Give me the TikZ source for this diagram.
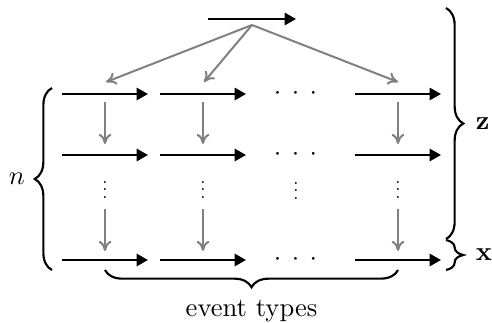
\documentclass[tikz,border=0pt]{standalone}
\usetikzlibrary{arrows.meta,decorations.pathreplacing}
\begin{document}
\begin{tikzpicture}[x=0.376pt,y=-0.376pt,
  blk/.style={line width=0.9pt,-{Triangle[length=4.3pt,width=4.6pt]}},
  gry/.style={line width=0.75pt,gray,-{To[length=3.8pt,width=4.8pt]}},
  brc/.style={decorate,decoration={brace,amplitude=#1},line width=0.8pt},
  brc/.default=6.5pt,
  hd/.style={inner sep=0pt},
  vd/.style={inner sep=0pt,scale=0.7}]
\useasboundingbox (0,0) rectangle (492,322);
% top arrow
\coordinate (t0) at (208,19); \coordinate (t1) at (296,19);
\draw[blk] (t0) -- (t1);
\coordinate (ts) at (252,25);
% rows
\foreach \r/\y in {a/94,b/155,c/260}{
  \coordinate (\r1s) at (62,\y);  \coordinate (\r1e) at (148,\y);
  \coordinate (\r2s) at (160,\y); \coordinate (\r2e) at (246,\y);
  \coordinate (\r4s) at (355,\y); \coordinate (\r4e) at (441,\y);
  \draw[blk] (\r1s) -- (\r1e);
  \draw[blk] (\r2s) -- (\r2e);
  \draw[blk] (\r4s) -- (\r4e);
  \node[hd] (\r3) at (295.5,\y) {$\cdotp\kern2.3pt\cdotp\kern2.3pt\cdotp$};
}
% diagonal gray arrows
\coordinate (d1) at (106,82); \coordinate (d2) at (204,82); \coordinate (d4) at (398,82);
\draw[gry] (ts) -- (d1);
\draw[gry] (ts) -- (d2);
\draw[gry] (ts) -- (d4);
% vertical gray arrows and vdots
\foreach \c/\x in {1/105,2/203,4/398}{
  \coordinate (u\c) at (\x,102); \coordinate (v\c) at (\x,144);
  \coordinate (p\c) at (\x,209); \coordinate (q\c) at (\x,251);
  \draw[gry] (u\c) -- (v\c);
  \draw[gry] (p\c) -- (q\c);
  \node[vd] (vd\c) at (\x,184) {$\vdots$};
}
\node[vd] (vd3) at (296,185) {$\vdots$};
% braces
\coordinate (lb0) at (52,270); \coordinate (lb1) at (52,88);
\draw[brc] (lb0) -- (lb1) node[midway,left=6.5pt] (nlab) {$n$};
\coordinate (zb0) at (446,8); \coordinate (zb1) at (446,239);
\draw[brc] (zb0) -- (zb1) node[midway,right=7.5pt] (zlab) {$\mathbf{z}$};
\coordinate (xb0) at (446,240); \coordinate (xb1) at (446,270);
\draw[brc] (xb0) -- (xb1) node[midway,right=7.5pt] (xlab) {$\mathbf{x}$};
\coordinate (bb0) at (398,270); \coordinate (bb1) at (105,270);
\draw[brc] (bb0) -- (bb1) node[midway,below=7.5pt] (elab) {event types};
\end{tikzpicture}
\end{document}
